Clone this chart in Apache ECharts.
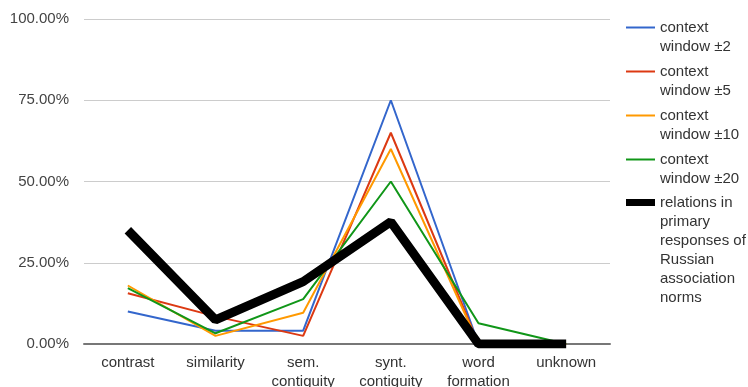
<!DOCTYPE html>
<html>
<head>
<meta charset="utf-8">
<script src="https://cdn.jsdelivr.net/npm/echarts@6/dist/echarts.min.js"></script>
<style>
  html, body { margin: 0; padding: 0; background: #fff; }
  #chart { width: 748px; height: 387px; }
</style>
</head>
<body>
<div id="chart"></div>
<script>
// categories on the x axis
const categories = ['contrast', 'similarity', 'sem.\ncontiguity', 'synt.\ncontiguity', 'word\nformation', 'unknown'];
const yTicks = [0, 0.25, 0.5, 0.75, 1];

// share of relations
const window2 = [0.10, 0.041, 0.041, 0.75, 0.0, 0.0];
const window5 = [0.156, 0.085, 0.025, 0.65, 0.0, 0.0];
const window10 = [0.18, 0.025, 0.096, 0.60, 0.0, 0.0];
const window20 = [0.172, 0.033, 0.138, 0.50, 0.064, 0.0];
const normsRu = [0.35, 0.074, 0.192, 0.376, 0.0, 0.0];

const seriesNames = [
  'context\nwindow ±2',
  'context\nwindow ±5',
  'context\nwindow ±10',
  'context\nwindow ±20',
  'relations in\nprimary\nresponses of\nRussian\nassociation\nnorms'
];
const seriesColors = ['#3366cc', '#dc3912', '#ff9900', '#109618', '#000000'];
const seriesData = [window2, window5, window10, window20, normsRu];

const chart = echarts.init(document.getElementById('chart'));

const series = seriesData.map((d, i) => ({
  name: seriesNames[i],
  type: 'line',
  data: d,
  symbol: 'none',
  z: i === 4 ? 5 : 2,
  lineStyle: { color: seriesColors[i], width: i === 4 ? 9 : 2 },
  itemStyle: { color: seriesColors[i] }
}));

// icons sit on the first text line: the bare moveTo points stretch the box
const thinIcon = 'path://M0,8.5H29V10.5H0Z M0,0 M29,38';
const thickIcon = 'path://M0,6H29V13H0Z M0,0 M29,114';
const legendText = { fontSize: 15, color: '#333', lineHeight: 19 };

const option = {
  animation: false,
  textStyle: { fontFamily: 'Liberation Sans, Arial, sans-serif' },
  grid: { left: 84, right: 138, top: 19, bottom: 43, outerBoundsMode: 'none' },
  legend: [
    {
      orient: 'vertical',
      left: 626,
      top: 18,
      padding: 0,
      itemWidth: 29,
      itemHeight: 38,
      itemGap: 6,
      icon: thinIcon,
      textStyle: legendText,
      data: seriesNames.slice(0, 4)
    },
    {
      orient: 'vertical',
      left: 626,
      top: 193,
      padding: 0,
      itemWidth: 29,
      itemHeight: 114,
      icon: thickIcon,
      textStyle: legendText,
      data: seriesNames.slice(4)
    }
  ],
  xAxis: {
    type: 'category',
    data: categories,
    boundaryGap: true,
    axisTick: { show: false },
    axisLine: { lineStyle: { color: '#777', width: 2 } },
    axisLabel: { fontSize: 15, color: '#333', margin: 9, lineHeight: 19, interval: 0 }
  },
  yAxis: {
    type: 'value',
    min: yTicks[0],
    max: yTicks[yTicks.length - 1],
    interval: 0.25,
    axisLine: { show: false },
    axisTick: { show: false },
    splitLine: { lineStyle: { color: '#ccc' } },
    axisLabel: {
      fontSize: 15,
      color: '#444',
      margin: 15,
      formatter: v => (v * 100).toFixed(2) + '%'
    }
  },
  series: series
};

chart.setOption(option);
</script>
</body>
</html>
